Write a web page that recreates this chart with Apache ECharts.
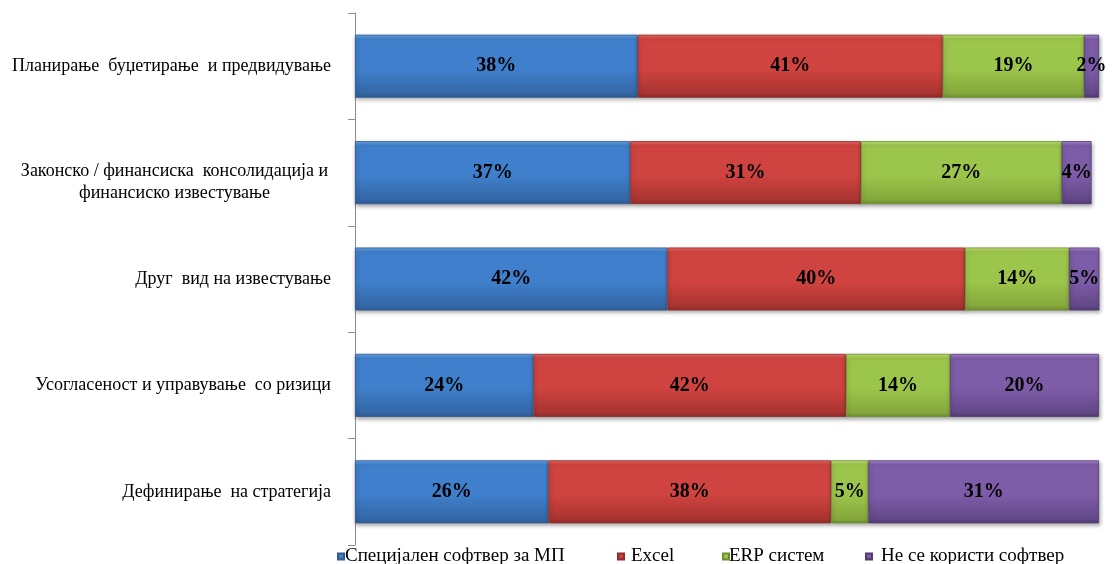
<!DOCTYPE html>
<html>
<head>
<meta charset="utf-8">
<script src="https://cdn.jsdelivr.net/npm/echarts@6/dist/echarts.min.js"></script>
<style>
html,body{margin:0;padding:0;background:#fff;}
#chart{width:1117px;height:564px;}
</style>
</head>
<body>
<div id="chart"></div>
<script>
var categories = [
  'Планирање  буџетирање  и предвидување',
  'Законско / финансиска  консолидација и\nфинансиско известување',
  'Друг  вид на известување',
  'Усогласеност и управување  со ризици',
  'Дефинирање  на стратегија'
];
var seriesNames = ['Специјален софтвер за МП', 'Excel', 'ERP систем', 'Не се користи софтвер'];
var softwareMP = [38, 37, 42, 24, 26];
var excel = [41, 31, 40, 42, 38];
var erp = [19, 27, 14, 14, 5];
var noSoftware = [2, 4, 5, 20, 31];

var palettes = [
  {top:'#6CA6E8', mid:'#3F7FCB', bot:'#3467A6', border:'#2F5C94'},
  {top:'#EC6A65', mid:'#CF4340', bot:'#A93431', border:'#8F2D2A'},
  {top:'#C3E577', mid:'#9CC54B', bot:'#84A83C', border:'#6E8F30'},
  {top:'#A88BD0', mid:'#7D5CA8', bot:'#634888', border:'#523B72'}
];
function grad(p){
  return new echarts.graphic.LinearGradient(0,0,0,1,[
    {offset:0, color:p.top},
    {offset:0.07, color:p.mid},
    {offset:0.55, color:p.mid},
    {offset:0.93, color:p.bot},
    {offset:1, color:p.border}
  ]);
}
var serif = "'Liberation Serif','Times New Roman',serif";
var datasets = [softwareMP, excel, erp, noSoftware];
var series = datasets.map(function(d,i){
  return {
    name: seriesNames[i],
    type: 'bar',
    stack: 'total',
    barWidth: 63,
    data: d,
    clip: true,
    itemStyle: {
      color: grad(palettes[i]),
      borderColor: palettes[i].border,
      borderWidth: 0.8,
      shadowColor: 'rgba(0,0,0,0.35)',
      shadowBlur: 4,
      shadowOffsetX: 1,
      shadowOffsetY: 2
    },
    label: {
      show: true,
      position: 'inside',
      formatter: '{c}%',
      color: '#000',
      fontFamily: serif,
      fontWeight: 'bold',
      fontSize: 20
    }
  };
});

var legendLeft = [337, 617, 722, 865];
var legendTextPad = [-4, 2, -5, 4];
var legends = seriesNames.map(function(n,i){
  return {
    data: [n],
    left: legendLeft[i],
    top: 547,
    padding: 0,
    itemWidth: 6,
    itemHeight: 6,
    icon: 'rect',
    textStyle: {fontFamily: serif, fontSize: 19, color: '#000', padding: [0,0,0,legendTextPad[i]]}
  };
});

var chart = echarts.init(document.getElementById('chart'), null, {renderer:'canvas'});
chart.setOption({
  animation: false,
  backgroundColor: '#fff',
  grid: {left: 355, right: 18, top: 13, bottom: 19, containLabel: false},
  legend: legends,
  xAxis: {
    type: 'value',
    min: 0,
    max: 100,
    show: false
  },
  yAxis: {
    type: 'category',
    inverse: true,
    data: categories,
    axisLine: {show: true, lineStyle: {color: '#8C8C8C', width: 1}},
    axisTick: {show: true, length: 7, lineStyle: {color: '#8C8C8C'}},
    axisLabel: {
      margin: 24,
      fontFamily: serif,
      fontSize: 18,
      color: '#000',
      formatter: function(v){
        if (v.indexOf('\n') >= 0) {
          var parts = v.split('\n');
          return '{e| }\n{a|' + parts[0] + '}\n{b|' + parts[1] + '}';
        }
        return v;
      },
      rich: {
        e: {width: 313, fontSize: 4, lineHeight: 20},
        a: {width: 313, align: 'center', fontFamily: serif, fontSize: 18, lineHeight: 22, color:'#000'},
        b: {width: 313, align: 'center', fontFamily: serif, fontSize: 18, lineHeight: 22, color:'#000'}
      }
    },
    splitLine: {show: false}
  },
  series: series
});
</script>
</body>
</html>
